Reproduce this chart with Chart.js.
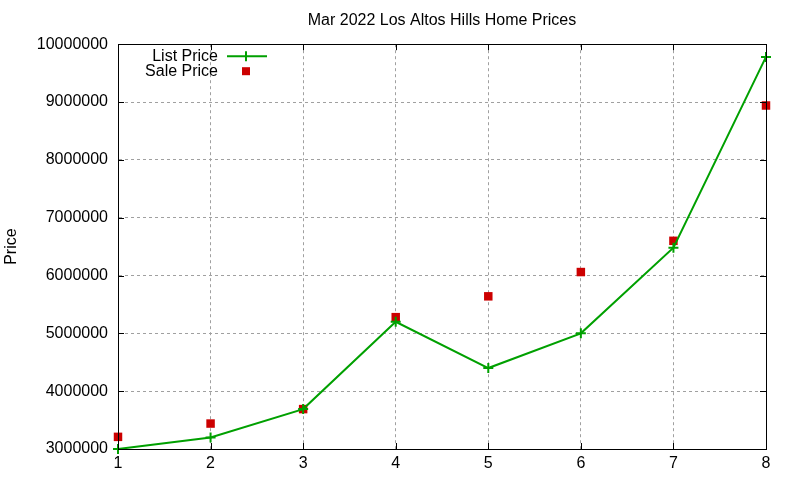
<!DOCTYPE html>
<html>
<head>
<meta charset="utf-8">
<script src="https://cdn.jsdelivr.net/npm/chart.js@4/dist/chart.umd.min.js"></script>
<style>
  html, body { margin: 0; padding: 0; background: #fff; }
  #wrap { width: 800px; height: 480px; }
</style>
</head>
<body>
<div id="wrap"><canvas id="chart"></canvas></div>
<script>
const houses = [1, 2, 3, 4, 5, 6, 7, 8];
const listPrice = [3000000, 3200000, 3690000, 5200000, 4400000, 5000000, 6480000, 9780000];
const salePrice = [3210000, 3440000, 3690000, 5280000, 5640000, 6060000, 6600000, 8940000];
const yTicks = [3000000, 4000000, 5000000, 6000000, 7000000, 8000000, 9000000, 10000000];

const FONT = 'Liberation Sans, Arial, sans-serif';
const GREEN = '#00a000';
const RED = '#cc0000';

function toPoints(values) {
    return houses.map((h, i) => ({ x: h, y: values[i] }));
}

// box around the plot, inward tick marks and gnuplot-style key
const framePlugin = {
    id: 'frame',
    afterDraw(chart) {
        const ctx = chart.ctx;
        const a = chart.chartArea;
        const xs = chart.scales.x, ys = chart.scales.y;
        ctx.save();
        ctx.strokeStyle = '#000';
        ctx.lineWidth = 1;
        ctx.beginPath();
        houses.forEach(h => {
            const px = Math.round(xs.getPixelForValue(h)) + 0.5;
            ctx.moveTo(px, a.bottom); ctx.lineTo(px, a.bottom - 6);
            ctx.moveTo(px, a.top); ctx.lineTo(px, a.top + 6);
        });
        yTicks.forEach(v => {
            const py = Math.round(ys.getPixelForValue(v)) + 0.5;
            ctx.moveTo(a.left, py); ctx.lineTo(a.left + 6, py);
            ctx.moveTo(a.right, py); ctx.lineTo(a.right - 6, py);
        });
        ctx.stroke();
        ctx.strokeRect(Math.round(a.left) + 0.5, Math.round(a.top) + 0.5,
            Math.round(a.right - a.left), Math.round(a.bottom - a.top));

        // key
        const ds = chart.data.datasets;
        ctx.font = '16px ' + FONT;
        ctx.fillStyle = '#000';
        ctx.textAlign = 'right';
        ctx.textBaseline = 'middle';
        const tx = a.left + 100, sx = a.left + 128;
        ctx.fillText(ds[0].label, tx, a.top + 12);
        ctx.fillText(ds[1].label, tx, a.top + 27);
        ctx.strokeStyle = GREEN;
        ctx.lineWidth = 2;
        ctx.beginPath();
        ctx.moveTo(a.left + 109, a.top + 12); ctx.lineTo(a.left + 149, a.top + 12);
        ctx.moveTo(sx, a.top + 7); ctx.lineTo(sx, a.top + 17);
        ctx.stroke();
        ctx.fillStyle = RED;
        ctx.fillRect(sx - 4, a.top + 23, 8, 8);
        ctx.restore();
    }
};

new Chart(document.getElementById('chart'), {
    type: 'scatter',
    data: {
        datasets: [{
            label: 'List Price',
            data: toPoints(listPrice),
            showLine: true,
            borderColor: GREEN,
            backgroundColor: GREEN,
            borderWidth: 2,
            pointStyle: 'cross',
            pointRadius: 5,
            pointBorderWidth: 2,
            clip: false,
        }, {
            label: 'Sale Price',
            data: toPoints(salePrice),
            showLine: false,
            borderColor: RED,
            backgroundColor: RED,
            pointStyle: 'rect',
            pointRadius: 6,
            pointBorderWidth: 0,
            clip: false,
        }]
    },
    options: {
        responsive: true,
        maintainAspectRatio: false,
        animation: false,
        events: [],
        layout: { padding: { top: 0, right: 34, left: 0, bottom: 0 } },
        plugins: {
            legend: { display: false },
            tooltip: { enabled: false },
            title: {
                display: true,
                text: 'Mar 2022 Los Altos Hills Home Prices',
                fullSize: false,
                color: '#000',
                font: { family: FONT, size: 16, weight: 'normal' },
                padding: { top: 11, bottom: 14 }
            }
        },
        scales: {
            x: {
                type: 'linear',
                min: 1, max: 8,
                afterFit(s) { s.height = 31; },
                afterBuildTicks(s) { s.ticks = houses.map(v => ({ value: v })); },
                ticks: {
                    color: '#000',
                    font: { family: FONT, size: 16 },
                    padding: 5,
                    maxRotation: 0
                },
                grid: { color: '#a0a0a0', drawTicks: false, tickLength: 0 },
                border: { display: true, color: '#000', dash: [3, 3] }
            },
            y: {
                min: 3000000, max: 10000000,
                afterFit(s) { s.width = 118; },
                afterBuildTicks(s) { s.ticks = yTicks.map(v => ({ value: v })); },
                ticks: {
                    color: '#000',
                    font: { family: FONT, size: 16 },
                    padding: 10,
                    callback: v => String(v)
                },
                grid: { color: '#a0a0a0', drawTicks: false, tickLength: 0 },
                border: { display: true, color: '#000', dash: [3, 3] },
                title: {
                    display: true,
                    text: 'Price',
                    color: '#000',
                    font: { family: FONT, size: 16 },
                    padding: { top: 2, bottom: 0 }
                }
            }
        }
    },
    plugins: [framePlugin]
});
</script>
</body>
</html>
